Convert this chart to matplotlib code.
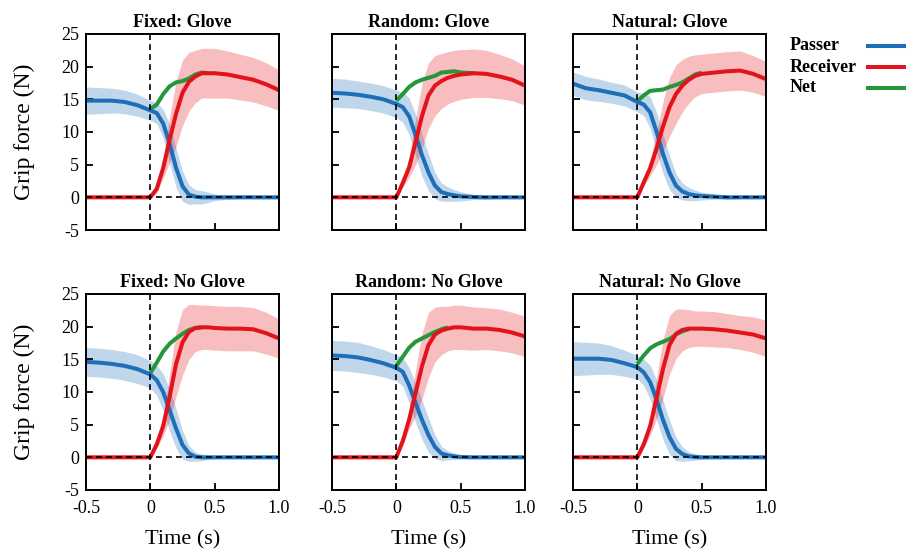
"""
Grip force during handover: passer, receiver and net force, 6 conditions.
"""

import numpy as np
import matplotlib
matplotlib.use("Agg")
import matplotlib.pyplot as plt
from matplotlib.lines import Line2D

plt.rcParams["font.family"] = ["Liberation Serif", "DejaVu Serif"]
plt.rcParams["axes.unicode_minus"] = False

# ──────────────────────────────────────────────────────────────
# DATA
# ──────────────────────────────────────────────────────────────
T = [-0.5, -0.4, -0.3, -0.2, -0.1, 0.0, 0.05, 0.1, 0.15, 0.2, 0.25,
     0.3, 0.35, 0.4, 0.45, 0.5, 0.6, 0.7, 0.8, 0.9, 1.0]

TITLES = ["Fixed: Glove", "Random: Glove", "Natural: Glove",
          "Fixed: No Glove", "Random: No Glove", "Natural: No Glove"]

N = np.nan

PASSER = [
    [14.8, 14.8, 14.8, 14.6, 14.1, 13.3, 12.9, 11.3, 8.2, 4.5, 1.7, 0.4, 0.1, 0, 0, 0, 0, 0, 0, 0, 0],
    [16.0, 15.9, 15.7, 15.4, 15.0, 14.3, 13.8, 12.4, 9.5, 6.4, 3.8, 1.8, 0.8, 0.5, 0.3, 0.15, 0.05, 0, 0, 0, 0],
    [17.4, 16.7, 16.4, 16.0, 15.6, 14.6, 14.2, 13.0, 10.0, 6.6, 3.8, 1.8, 0.9, 0.5, 0.3, 0.2, 0.1, 0, 0, 0, 0],
    [14.6, 14.5, 14.3, 14.0, 13.5, 12.7, 11.8, 10.0, 7.2, 4.4, 1.9, 0.6, 0.1, 0, 0, 0, 0, 0, 0, 0, 0],
    [15.6, 15.5, 15.3, 14.9, 14.4, 13.7, 13.1, 11.0, 8.3, 5.7, 3.4, 1.6, 0.6, 0.3, 0.15, 0.05, 0, 0, 0, 0, 0],
    [15.1, 15.1, 15.1, 14.9, 14.4, 13.8, 13.0, 11.5, 8.8, 5.7, 3.1, 1.3, 0.5, 0.15, 0.05, 0, 0, 0, 0, 0, 0],
]

PASSER_SD = [
    [2.1, 2.0, 1.9, 1.8, 1.7, 1.5, 1.6, 2.2, 3.0, 3.0, 2.3, 1.5, 1.1, 1.0, 0.8, 0.5, 0.3, 0.2, 0.2, 0.2, 0.2],
    [2.2, 2.2, 2.1, 2.1, 2.1, 2.1, 2.3, 2.8, 3.2, 3.2, 2.8, 2.0, 1.4, 1.1, 0.9, 0.7, 0.4, 0.3, 0.2, 0.2, 0.2],
    [1.8, 1.8, 1.7, 1.6, 1.6, 1.5, 1.7, 2.4, 3.0, 3.0, 2.6, 1.8, 1.3, 1.0, 0.8, 0.6, 0.4, 0.3, 0.2, 0.2, 0.2],
    [2.2, 2.2, 2.2, 2.2, 2.2, 2.1, 2.3, 2.8, 3.2, 3.0, 2.2, 1.2, 0.7, 0.5, 0.3, 0.2, 0.2, 0.2, 0.2, 0.2, 0.2],
    [2.3, 2.3, 2.3, 2.2, 2.1, 2.0, 2.2, 2.7, 3.0, 3.0, 2.6, 1.8, 1.1, 0.7, 0.5, 0.3, 0.2, 0.2, 0.2, 0.2, 0.2],
    [2.6, 2.5, 2.4, 2.2, 2.0, 1.8, 2.0, 2.6, 3.0, 3.0, 2.6, 1.8, 1.1, 0.7, 0.5, 0.3, 0.2, 0.2, 0.2, 0.2, 0.2],
]

RECEIVER = [
    [0, 0, 0, 0, 0, 0, 1.3, 4.5, 8.8, 12.8, 16.0, 17.7, 18.5, 19.0, 19.0, 19.0, 18.8, 18.4, 18.0, 17.3, 16.4],
    [0, 0, 0, 0, 0, 0, 2.2, 4.6, 8.5, 12.5, 15.6, 17.1, 17.8, 18.3, 18.6, 18.8, 19.0, 18.9, 18.5, 18.0, 17.1],
    [0, 0, 0, 0, 0, 0, 2.3, 4.5, 7.5, 10.9, 13.8, 15.8, 17.1, 18.0, 18.6, 18.9, 19.1, 19.3, 19.4, 18.9, 18.1],
    [0, 0, 0, 0, 0, 0, 2.0, 4.8, 9.3, 14.3, 17.6, 19.2, 19.8, 19.9, 19.9, 19.8, 19.7, 19.7, 19.6, 19.0, 18.2],
    [0, 0, 0, 0, 0, 0, 2.5, 5.8, 9.9, 14.0, 17.2, 18.8, 19.4, 19.7, 19.9, 19.9, 19.7, 19.7, 19.5, 19.1, 18.5],
    [0, 0, 0, 0, 0, 0, 2.0, 4.8, 9.1, 13.6, 17.2, 18.9, 19.5, 19.7, 19.7, 19.7, 19.6, 19.4, 19.1, 18.8, 18.2],
]

RECEIVER_SD = [
    [0.1, 0.1, 0.1, 0.1, 0.1, 0.1, 0.6, 1.5, 3.5, 5.0, 5.0, 4.5, 4.0, 3.8, 3.8, 3.8, 3.6, 3.5, 3.4, 3.3, 3.1],
    [0.1, 0.1, 0.1, 0.1, 0.1, 0.1, 0.6, 1.5, 3.5, 5.0, 5.0, 4.6, 4.2, 4.0, 3.9, 3.8, 3.7, 3.6, 3.4, 3.2, 3.0],
    [0.1, 0.1, 0.1, 0.1, 0.1, 0.1, 0.5, 1.2, 2.5, 3.8, 4.5, 4.5, 4.0, 3.6, 3.2, 3.0, 3.0, 3.0, 3.0, 2.8, 2.7],
    [0.1, 0.1, 0.1, 0.1, 0.1, 0.1, 0.6, 1.5, 3.5, 5.0, 5.0, 4.2, 3.6, 3.4, 3.4, 3.4, 3.4, 3.4, 3.3, 3.2, 3.0],
    [0.1, 0.1, 0.1, 0.1, 0.1, 0.1, 0.6, 1.5, 3.5, 5.0, 5.0, 4.2, 3.7, 3.4, 3.4, 3.4, 3.3, 3.2, 3.2, 3.1, 3.1],
    [0.1, 0.1, 0.1, 0.1, 0.1, 0.1, 0.5, 1.4, 3.2, 4.5, 4.5, 3.8, 3.2, 2.9, 2.7, 2.7, 2.7, 2.6, 2.6, 2.7, 2.8],
]

NET = [
    [N, N, N, N, N, 13.5, 14.2, 15.8, 17.0, 17.6, 17.8, 18.2, 18.8, 19.1, 19.0, N, N, N, N, N, N],
    [N, N, N, N, N, 14.8, 15.8, 16.9, 17.6, 18.0, 18.3, 18.6, 19.1, 19.2, 19.3, 19.1, 19.0, N, N, N, N],
    [N, N, N, N, N, 14.7, 15.6, 16.3, 16.4, 16.5, 16.9, 17.2, 17.6, 18.2, 18.8, 19.1, N, N, N, N, N],
    [N, N, N, N, N, 12.9, 14.5, 16.2, 17.4, 18.2, 18.9, 19.5, 19.8, 19.9, N, N, N, N, N, N, N],
    [N, N, N, N, N, 14.0, 15.4, 16.8, 17.7, 18.2, 18.7, 19.2, 19.6, 19.9, N, N, N, N, N, N, N],
    [N, N, N, N, N, 14.3, 15.6, 16.7, 17.3, 17.7, 18.1, 18.8, 19.3, 19.6, N, N, N, N, N, N, N],
]

X_TICKS = [-0.5, 0, 0.5, 1.0]
X_TICKLABELS = ["-0.5", "0", "0.5", "1.0"]
Y_TICKS = [-5, 0, 5, 10, 15, 20, 25]

SERIES = ["Passer", "Receiver", "Net"]
# ──────────────────────────────────────────────────────────────

C_BLUE = "#1c6fb8"
C_RED = "#e3131b"
C_GREEN = "#23973a"
LW = 2.9

W, H = 906, 552
fig = plt.figure(figsize=(W / 100, H / 100), dpi=100)

col_left = [86, 332, 573]
row_top = [34, 294]
ax_w, ax_h = 193, 196

t = np.array(T)
for i, title in enumerate(TITLES):
    r, c = divmod(i, 3)
    ax = fig.add_axes([col_left[c] / W, 1 - (row_top[r] + ax_h) / H, ax_w / W, ax_h / H])

    p = np.array(PASSER[i])
    psd = np.array(PASSER_SD[i])
    rc = np.array(RECEIVER[i])
    rsd = np.array(RECEIVER_SD[i])

    ax.fill_between(t, p - psd, p + psd, color=C_BLUE, alpha=0.28, lw=0)
    ax.fill_between(t, rc - rsd, rc + rsd, color=C_RED, alpha=0.28, lw=0)
    ax.plot(t, NET[i], color=C_GREEN, lw=LW, solid_capstyle="butt")
    ax.plot(t, p, color=C_BLUE, lw=LW, solid_joinstyle="round")
    ax.plot(t, rc, color=C_RED, lw=LW, solid_joinstyle="round")

    ax.axhline(0, color="black", ls=(0, (3.5, 2.5)), lw=1.2, zorder=5)
    ax.axvline(0, color="black", ls=(0, (3.5, 2.5)), lw=1.2, zorder=5)

    ax.set_xlim(-0.5, 1.0)
    ax.set_ylim(-5, 25)
    ax.set_xticks(X_TICKS)
    ax.set_yticks(Y_TICKS)
    ax.tick_params(direction="in", length=5, width=1.3, labelsize=13,
                   top=False, right=False, pad=5)
    ax.tick_params(axis="x", pad=7)
    for s in ax.spines.values():
        s.set_linewidth(1.4)

    if r == 1:
        ax.set_xticklabels(X_TICKLABELS)
        ax.set_xlabel("Time (s)", fontsize=16)
        ax.xaxis.set_label_coords(0.5, -(530 - 490) / ax_h)
    else:
        ax.set_xticklabels([])
    if c == 0:
        ax.set_ylabel("Grip force (N)", fontsize=17)
        ax.yaxis.set_label_coords((35 - 86) / ax_w, 0.5)
    else:
        ax.set_yticklabels([])

    ax.set_title(title, fontsize=13, fontweight="bold", pad=5)

# legend, drawn by hand so text stays left-aligned
leg_colors = [C_BLUE, C_RED, C_GREEN]
leg_y = [46, 67, 88]
for name, col, y in zip(SERIES, leg_colors, leg_y):
    fig.text(790 / W, 1 - y / H, name, fontsize=13, fontweight="bold",
             ha="left", va="center")
    fig.add_artist(Line2D([868 / W, 1.01], [1 - y / H, 1 - y / H],
                          transform=fig.transFigure, color=col, lw=LW))

plt.savefig("out.png", dpi=100)
plt.close()
